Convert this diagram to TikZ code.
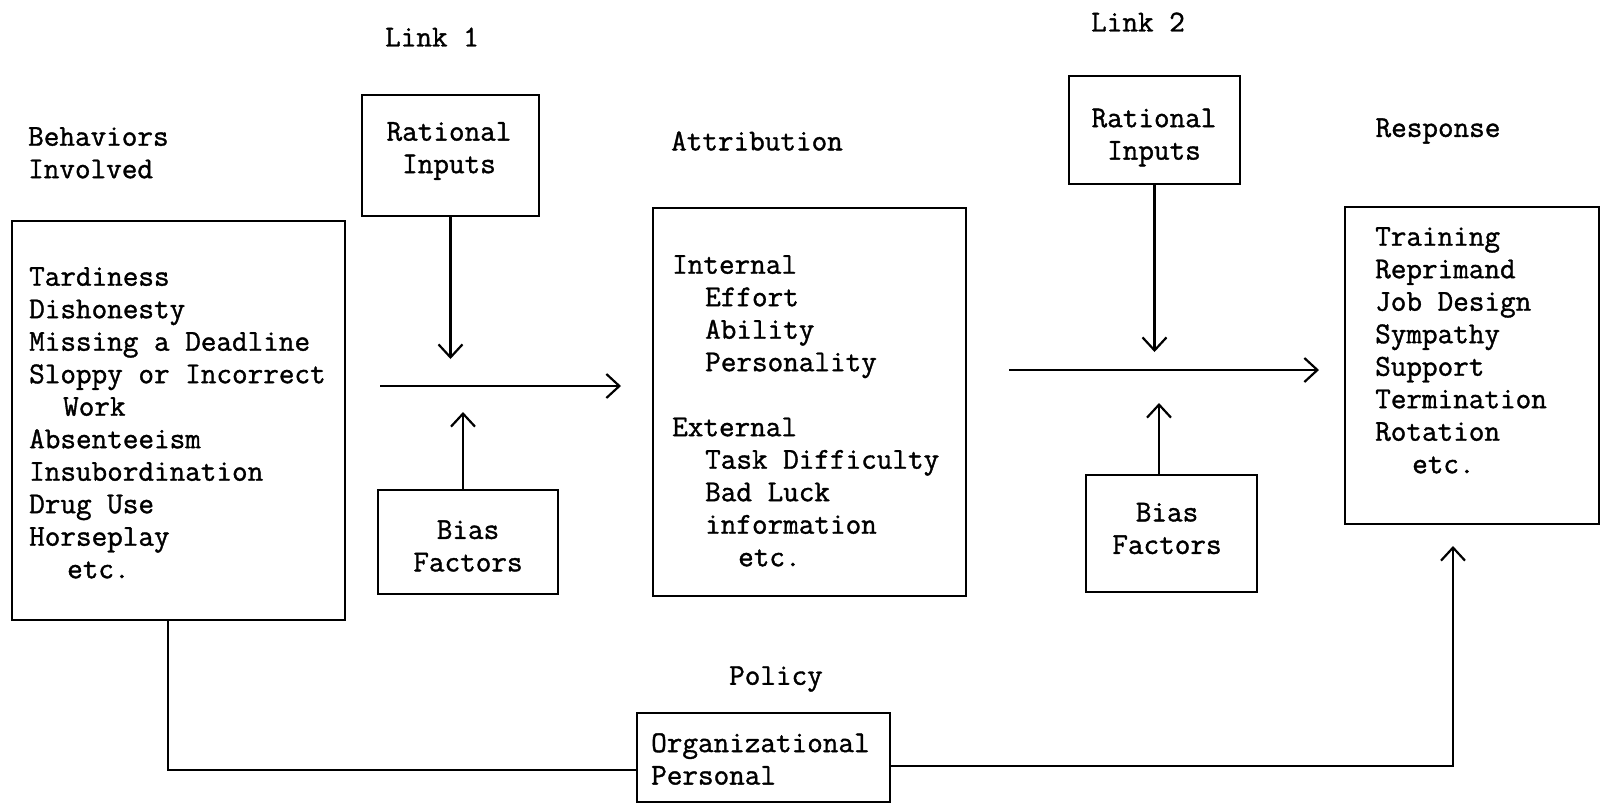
\documentclass[tikz,border=0pt]{standalone}
\usepackage{fontspec}
\setmonofont{Latin Modern Mono}[FakeBold=1.2]
\usetikzlibrary{arrows.meta}
\begin{document}
\begin{tikzpicture}[x=1pt,y=-1pt,
  txt/.style={font=\fontsize{30.3}{32.5}\selectfont\ttfamily\bfseries, inner sep=0pt},
  boxa/.style={draw, line width=2.4pt, inner sep=0pt},
  conn/.style={line width=2.2pt},
  arr/.style={conn, -{Straight Barb[length=13pt,width=24pt,line width=2.2pt]}}]
\useasboundingbox (0,0) rectangle (1601,804);
% boxes
\node[boxa, minimum width=333pt, minimum height=399pt] (beh) at (178.5,420.5) {};
\node[boxa, minimum width=177pt, minimum height=121pt] (rat1) at (450.5,155.5) {};
\node[boxa, minimum width=180pt, minimum height=104pt] (bias1) at (468,542) {};
\node[boxa, minimum width=313pt, minimum height=388pt] (att) at (809.5,402) {};
\node[boxa, minimum width=171pt, minimum height=108pt] (rat2) at (1154.5,130) {};
\node[boxa, minimum width=171pt, minimum height=117pt] (bias2) at (1171.5,533.5) {};
\node[boxa, minimum width=254pt, minimum height=317pt] (resp) at (1472,365.5) {};
\node[boxa, minimum width=253pt, minimum height=89pt] (pol) at (763.5,757.5) {};
% labels
\node[txt] (link1) at (432,37) {Link 1};
\node[txt] (link2) at (1138,22) {Link 2};
\node[txt, anchor=north west, align=left] (behL) at (28,127) {Behaviors\\Involved};
\node[txt] (attL) at (757,141) {Attribution};
\node[txt] (respL) at (1438,131) {Response};
\node[txt] (polL) at (776,679) {Policy};
% box texts
\node[txt, anchor=north west, align=left] (behT) at (29,267) {Tardiness\\Dishonesty\\Missing a Deadline\\Sloppy or Incorrect\\\hspace*{34pt}Work\\Absenteeism\\Insubordination\\Drug Use\\Horseplay\\\hspace*{38pt}etc.};
\node[txt, align=center] (rat1T) at (449,151) {Rational\\Inputs};
\node[txt, align=center] (bias1T) at (468,546) {Bias\\Factors};
\node[txt, anchor=north west, align=left] (attT) at (672,255) {Internal\\\hspace*{33pt}Effort\\\hspace*{33pt}Ability\\\hspace*{33pt}Personality\\[32.5pt]External\\\hspace*{33pt}Task Difficulty\\\hspace*{33pt}Bad Luck\\\hspace*{33pt}information\\\hspace*{66pt}etc.};
\node[txt, align=center] (rat2T) at (1154,137.5) {Rational\\Inputs};
\node[txt, align=center] (bias2T) at (1167,528.5) {Bias\\Factors};
\node[txt, anchor=north west, align=left] (respT) at (1375,227) {Training\\Reprimand\\Job Design\\Sympathy\\Support\\Termination\\Rotation\\\hspace*{37pt}etc.};
\node[txt, anchor=north west, align=left] (polT) at (651,733) {Organizational\\Personal};
% coordinates
\coordinate (t1) at (450.5,359);
\coordinate (u1) at (463,412);
\coordinate (h1s) at (380,386);
\coordinate (h1e) at (621,386);
\coordinate (t2) at (1154.5,352);
\coordinate (u2) at (1159,403);
\coordinate (h2s) at (1009,370);
\coordinate (h2e) at (1319,370);
\coordinate (bl) at (168,770);
\coordinate (br) at (1453,766);
\coordinate (rtip) at (1453,546);
% connectors
\draw[arr] (rat1.south) -- (t1);
\draw[arr] (u1 |- bias1.north) -- (u1);
\draw[arr] (h1s) -- (h1e);
\draw[arr] (rat2.south) -- (t2);
\draw[arr] (u2 |- bias2.north) -- (u2);
\draw[arr] (h2s) -- (h2e);
\draw[conn] (bl |- beh.south) -- (bl) -- (bl -| pol.west);
\draw[arr] (br -| pol.east) -- (br) -- (rtip);
\end{tikzpicture}
\end{document}
